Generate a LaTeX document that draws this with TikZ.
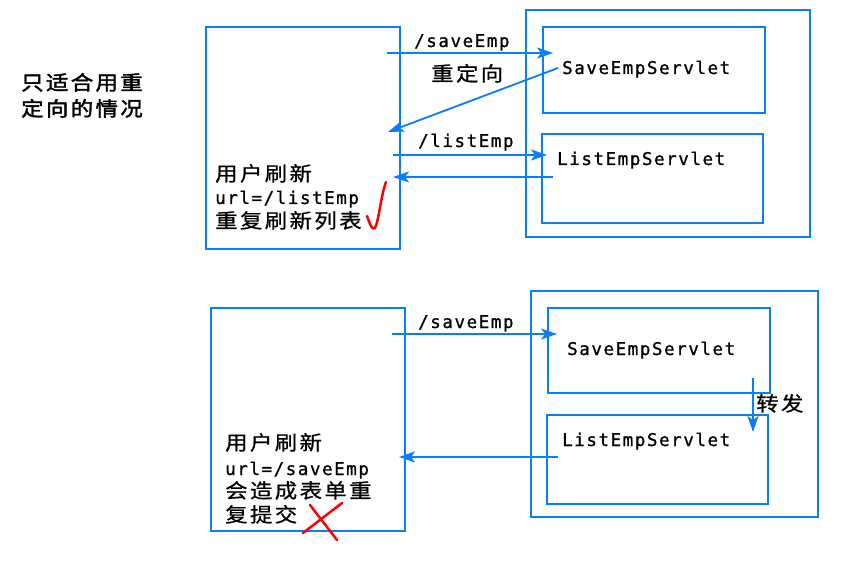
\documentclass[tikz,border=0pt]{standalone}
\usepackage{fontspec}
\usetikzlibrary{arrows.meta}
\newfontfamily\mono[LetterSpace=9,FakeBold=1]{DejaVu Sans Mono}
\newfontfamily\cjk[LetterSpace=12,FakeStretch=1.12,FakeBold=0.8]{Noto Sans CJK SC}
\newfontfamily\cjkb[LetterSpace=12,FakeStretch=1.12,FakeBold=2]{Noto Sans CJK SC}
\definecolor{lineblue}{RGB}{10,125,255}
\definecolor{penred}{RGB}{255,0,0}
\begin{document}
\begin{tikzpicture}[x=1bp,y=-1bp,
  box/.style={draw=lineblue, line width=2bp, anchor=north west, inner sep=0pt, outer sep=0pt},
  link/.style={draw=lineblue, line width=1.8bp, -{Stealth[length=16bp,width=11bp,inset=4bp]}},
  cn/.style={font=\cjk\fontsize{20bp}{20bp}\selectfont, anchor=base west, inner sep=0pt},
  cnb/.style={font=\cjkb\fontsize{20bp}{20bp}\selectfont, anchor=base west, inner sep=0pt},
  mn/.style={font=\mono\fontsize{17.5bp}{17.5bp}\selectfont, anchor=base west, inner sep=0pt},
  redpen/.style={draw=penred, line width=2.5bp, line cap=round, line join=round}]
\useasboundingbox (0,0) rectangle (841,581);

% ---------- top diagram ----------
\node[box, minimum width=194bp, minimum height=222bp] (client1) at (206,27) {};
\node[box, minimum width=284bp, minimum height=227bp] (outer1) at (526,10) {};
\node[box, minimum width=222bp, minimum height=86bp] (save1) at (543,27) {};
\node[box, minimum width=221bp, minimum height=89bp] (list1) at (542,134) {};

\node[cnb] (note1) at (21,90) {只适合用重};
\node[cnb] (note2) at (21,116) {定向的情况};

\node[mn] (save1txt) at (562,74) {SaveEmpServlet};
\node[mn] (list1txt) at (557,165) {ListEmpServlet};

\node[cn] (c1l1) at (215,181) {用户刷新};
\node[mn] (c1l2) at (215,204) {url=/listEmp};
\node[cn] (c1l3) at (215,228) {重复刷新列表};

\coordinate (a1s) at (387,53);  \coordinate (a1e) at (553,53);
\coordinate (a2s) at (558,68);  \coordinate (a2e) at (388,132);
\coordinate (a3s) at (393,155); \coordinate (a3e) at (547,155);
\coordinate (a4s) at (553,177); \coordinate (a4e) at (393,177);
\draw[link] (a1s) -- (a1e);
\draw[link] (a2s) -- (a2e);
\draw[link] (a3s) -- (a3e);
\draw[link] (a4s) -- (a4e);

\node[mn] (lab1) at (414,47) {/saveEmp};
\node[cn] (lab2) at (431,81) {重定向};
\node[mn] (lab3) at (418,147) {/listEmp};

\draw[redpen] (367,216) .. controls (370,224) and (372,231) .. (375,228)
  .. controls (379,220) and (381,195) .. (386,182);

% ---------- bottom diagram ----------
\node[box, minimum width=194bp, minimum height=223bp] (client2) at (211,308) {};
\node[box, minimum width=287bp, minimum height=226bp] (outer2) at (531,291) {};
\node[box, minimum width=222bp, minimum height=85bp] (save2) at (548,308) {};
\node[box, minimum width=221bp, minimum height=89bp] (list2) at (547,415) {};

\node[mn] (save2txt) at (567,355) {SaveEmpServlet};
\node[mn] (list2txt) at (562,446) {ListEmpServlet};

\node[cn] (c2l1) at (225,450) {用户刷新};
\node[mn] (c2l2) at (225,475) {url=/saveEmp};
\node[cn] (c2l3) at (225,498) {会造成表单重};
\node[cn] (c2l4) at (225,522) {复提交};

\coordinate (b1s) at (392,334); \coordinate (b1e) at (557,334);
\coordinate (b2s) at (753,378); \coordinate (b2e) at (753,432);
\coordinate (b3s) at (558,457); \coordinate (b3e) at (399,457);
\draw[link] (b1s) -- (b1e);
\draw[link] (b2s) -- (b2e);
\draw[link] (b3s) -- (b3e);

\node[mn] (lab4) at (418,328) {/saveEmp};
\node[cn] (lab5) at (756,411) {转发};

\draw[redpen] (303,533) -- (342,503);
\draw[redpen] (310,505) -- (337,540);
\end{tikzpicture}
\end{document}
